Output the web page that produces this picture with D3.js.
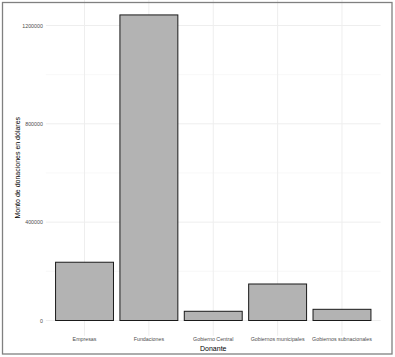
<!DOCTYPE html>
<html><head><meta charset="utf-8">
<script src="https://cdn.jsdelivr.net/npm/d3@7"></script>
<style>body{margin:0;background:#fff}svg{display:block}</style>
</head><body>
<script>
const categories = ["Empresas", "Fundaciones", "Gobierno Central", "Gobiernos municipales", "Gobiernos subnacionales"];
const values = [237000, 1243000, 37500, 148500, 45500];
const yTicks = [0, 400000, 800000, 1200000];
const yMinor = [200000, 600000, 1000000];

(function () {
const W = 395, H = 357;
const svg = d3.select("body").append("svg").attr("width", W).attr("height", H);
const font = "Liberation Sans, Arial, sans-serif";

const pLeft = 45.9, pRight = 380.6;
const yMax = d3.max(values);
const exp = yMax * 0.05;
const y0px = 320.5, y1200px = 25.5;
const k = (y0px - y1200px) / 1200000;
const pTop = y0px - (yMax + exp) * k, pBottom = y0px + exp * k;

const y = d3.scaleLinear().domain([-exp, yMax + exp]).range([pBottom, pTop]);
const step = (pRight - pLeft) / (categories.length - 1 + 1.2);
const x = d3.scaleBand().domain(categories)
  .range([pLeft + 0.6 * step - step / 2, pRight - 0.6 * step + step / 2])
  .paddingInner(0.1).paddingOuter(0.05);

const g = svg.append("g");
g.selectAll(".minor").data(yMinor).join("line")
  .attr("x1", pLeft).attr("x2", pRight).attr("y1", d => y(d)).attr("y2", d => y(d))
  .attr("stroke", "#f4f4f4").attr("stroke-width", 0.6);
g.selectAll(".major").data(yTicks).join("line")
  .attr("x1", pLeft).attr("x2", pRight).attr("y1", d => y(d)).attr("y2", d => y(d))
  .attr("stroke", "#eeeeee").attr("stroke-width", 1);
g.selectAll(".vmajor").data(categories).join("line")
  .attr("x1", d => x(d) + x.bandwidth() / 2).attr("x2", d => x(d) + x.bandwidth() / 2)
  .attr("y1", pTop).attr("y2", pBottom)
  .attr("stroke", "#eeeeee").attr("stroke-width", 1);

svg.selectAll(".bar").data(categories).join("rect")
  .attr("x", d => x(d)).attr("width", x.bandwidth())
  .attr("y", (d, i) => y(values[i])).attr("height", (d, i) => y(0) - y(values[i]))
  .attr("fill", "#b3b3b3").attr("stroke", "#1a1a1a").attr("stroke-width", 1);

const yAxis = svg.append("g").attr("transform", `translate(${pLeft},0)`)
  .call(d3.axisLeft(y).tickValues(yTicks).tickFormat(d3.format("d")).tickSize(0).tickPadding(3));
yAxis.select(".domain").remove();
yAxis.selectAll("text").attr("font-family", font).attr("font-size", 5.3).attr("fill", "#4d4d4d");

const xAxis = svg.append("g").attr("transform", `translate(0,${pBottom})`)
  .call(d3.axisBottom(x).tickSize(0).tickPadding(1.5));
xAxis.select(".domain").remove();
xAxis.selectAll("text").attr("font-family", font).attr("font-size", 5.3).attr("fill", "#4d4d4d");

svg.append("text").attr("x", (pLeft + pRight) / 2).attr("y", 351)
  .attr("text-anchor", "middle").attr("font-family", font).attr("font-size", 7)
  .attr("fill", "#000").text("Donante");
svg.append("text").attr("transform", `translate(20,${(pTop + pBottom) / 2}) rotate(-90)`)
  .attr("text-anchor", "middle").attr("font-family", font).attr("font-size", 7)
  .attr("fill", "#000").text("Monto de donaciones en dólares");

svg.append("rect").attr("x", 2.5).attr("y", 2.5).attr("width", 389.5).attr("height", 351.5)
  .attr("fill", "none").attr("stroke", "#808080").attr("stroke-width", 1.3);
})();
</script>
</body></html>
